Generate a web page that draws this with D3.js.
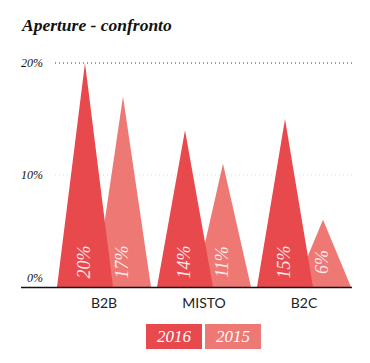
<!DOCTYPE html>
<html>
<head>
<meta charset="utf-8">
<script src="https://cdn.jsdelivr.net/npm/d3@7"></script>
<style>
  body { margin: 0; background: #fff; }
</style>
</head>
<body>
<div id="chart"></div>
<script>
// data
const categories = ["B2B", "MISTO", "B2C"];
const series = ["2016", "2015"];
const values2016 = [20, 14, 15];
const values2015 = [17, 11, 6];
const yTicks = [0, 10, 20];
const title = "Aperture - confronto";

const colors = { "2016": "#e8494d", "2015": "#ee7874" };
const serif = "'Liberation Serif', 'DejaVu Serif', serif";

const width = 370, height = 363;

const svg = d3.select("#chart").append("svg")
  .attr("width", width)
  .attr("height", height);

// scales
const x = d3.scaleBand().domain(categories).range([54, 354]);
const xSub = d3.scalePoint().domain(series).range([-19, 19]);
const y = d3.scaleLinear().domain([0, 20]).range([287, 63]);
const halfW = x.bandwidth() * 0.28;

// title
svg.append("text")
  .attr("x", 22).attr("y", 31)
  .attr("font-family", serif)
  .attr("font-style", "italic")
  .attr("font-weight", "bold")
  .attr("font-size", 17.5)
  .attr("fill", "#111")
  .text(title);

// gridlines
svg.append("line")
  .attr("x1", 55).attr("x2", 352)
  .attr("y1", y(20)).attr("y2", y(20))
  .attr("stroke", "#333").attr("stroke-width", 1.2)
  .attr("stroke-dasharray", "1,3");
svg.append("line")
  .attr("x1", 55).attr("x2", 352)
  .attr("y1", y(10)).attr("y2", y(10))
  .attr("stroke", "#ddd").attr("stroke-width", 1)
  .attr("stroke-dasharray", "1,3");

// y tick labels
svg.selectAll(".ytick")
  .data(yTicks)
  .enter().append("text")
  .attr("class", "ytick")
  .attr("x", 43)
  .attr("y", d => d === 0 ? y(d) - 5 : y(d) + 4)
  .attr("text-anchor", "end")
  .attr("font-family", serif)
  .attr("font-style", "italic")
  .attr("font-size", 12)
  .attr("fill", "#111")
  .text(d => d + "%");

// triangles: 2015 first, 2016 on top
const rows = [];
series.slice().reverse().forEach(s => {
  const vals = s === "2016" ? values2016 : values2015;
  categories.forEach((c, i) => rows.push({ cat: c, s: s, v: vals[i] }));
});

const tri = svg.append("g");
tri.selectAll("path")
  .data(rows)
  .enter().append("path")
  .attr("d", d => {
    const cx = x(d.cat) + x.bandwidth() / 2 + xSub(d.s);
    return "M" + (cx - halfW) + "," + y(0) +
           "L" + cx + "," + y(d.v) +
           "L" + (cx + halfW) + "," + y(0) + "Z";
  })
  .attr("fill", d => colors[d.s]);

// value labels
tri.selectAll("text")
  .data(rows)
  .enter().append("text")
  .attr("transform", d => {
    const cx = x(d.cat) + x.bandwidth() / 2 + xSub(d.s);
    return "translate(" + (cx + 5) + ",262) rotate(-90)";
  })
  .attr("text-anchor", "middle")
  .attr("font-family", serif)
  .attr("font-style", "italic")
  .attr("font-size", 18)
  .attr("fill", "#fff")
  .attr("fill-opacity", 0.88)
  .text(d => d.v + "%");

// baseline
svg.append("line")
  .attr("x1", 21).attr("x2", 352)
  .attr("y1", y(0) + 0.5).attr("y2", y(0) + 0.5)
  .attr("stroke", "#111").attr("stroke-width", 1.5);

// category labels
svg.selectAll(".cat")
  .data(categories)
  .enter().append("text")
  .attr("class", "cat")
  .attr("x", d => x(d) + x.bandwidth() / 2)
  .attr("y", 308)
  .attr("text-anchor", "middle")
  .attr("font-family", "Lato, 'Open Sans', sans-serif")
  .attr("font-size", 14)
  .attr("fill", "#222")
  .text(d => d);

// legend
const legendX = d3.scalePoint().domain(series).range([146, 205]);
const leg = svg.selectAll(".leg")
  .data(series)
  .enter().append("g")
  .attr("class", "leg")
  .attr("transform", d => "translate(" + legendX(d) + ",324)");
leg.append("rect")
  .attr("width", 56).attr("height", 25)
  .attr("fill", d => colors[d]);
leg.append("text")
  .attr("x", 28).attr("y", 18)
  .attr("text-anchor", "middle")
  .attr("font-family", serif)
  .attr("font-style", "italic")
  .attr("font-size", 17)
  .attr("fill", "#fff")
  .text(d => d);
</script>
</body>
</html>
